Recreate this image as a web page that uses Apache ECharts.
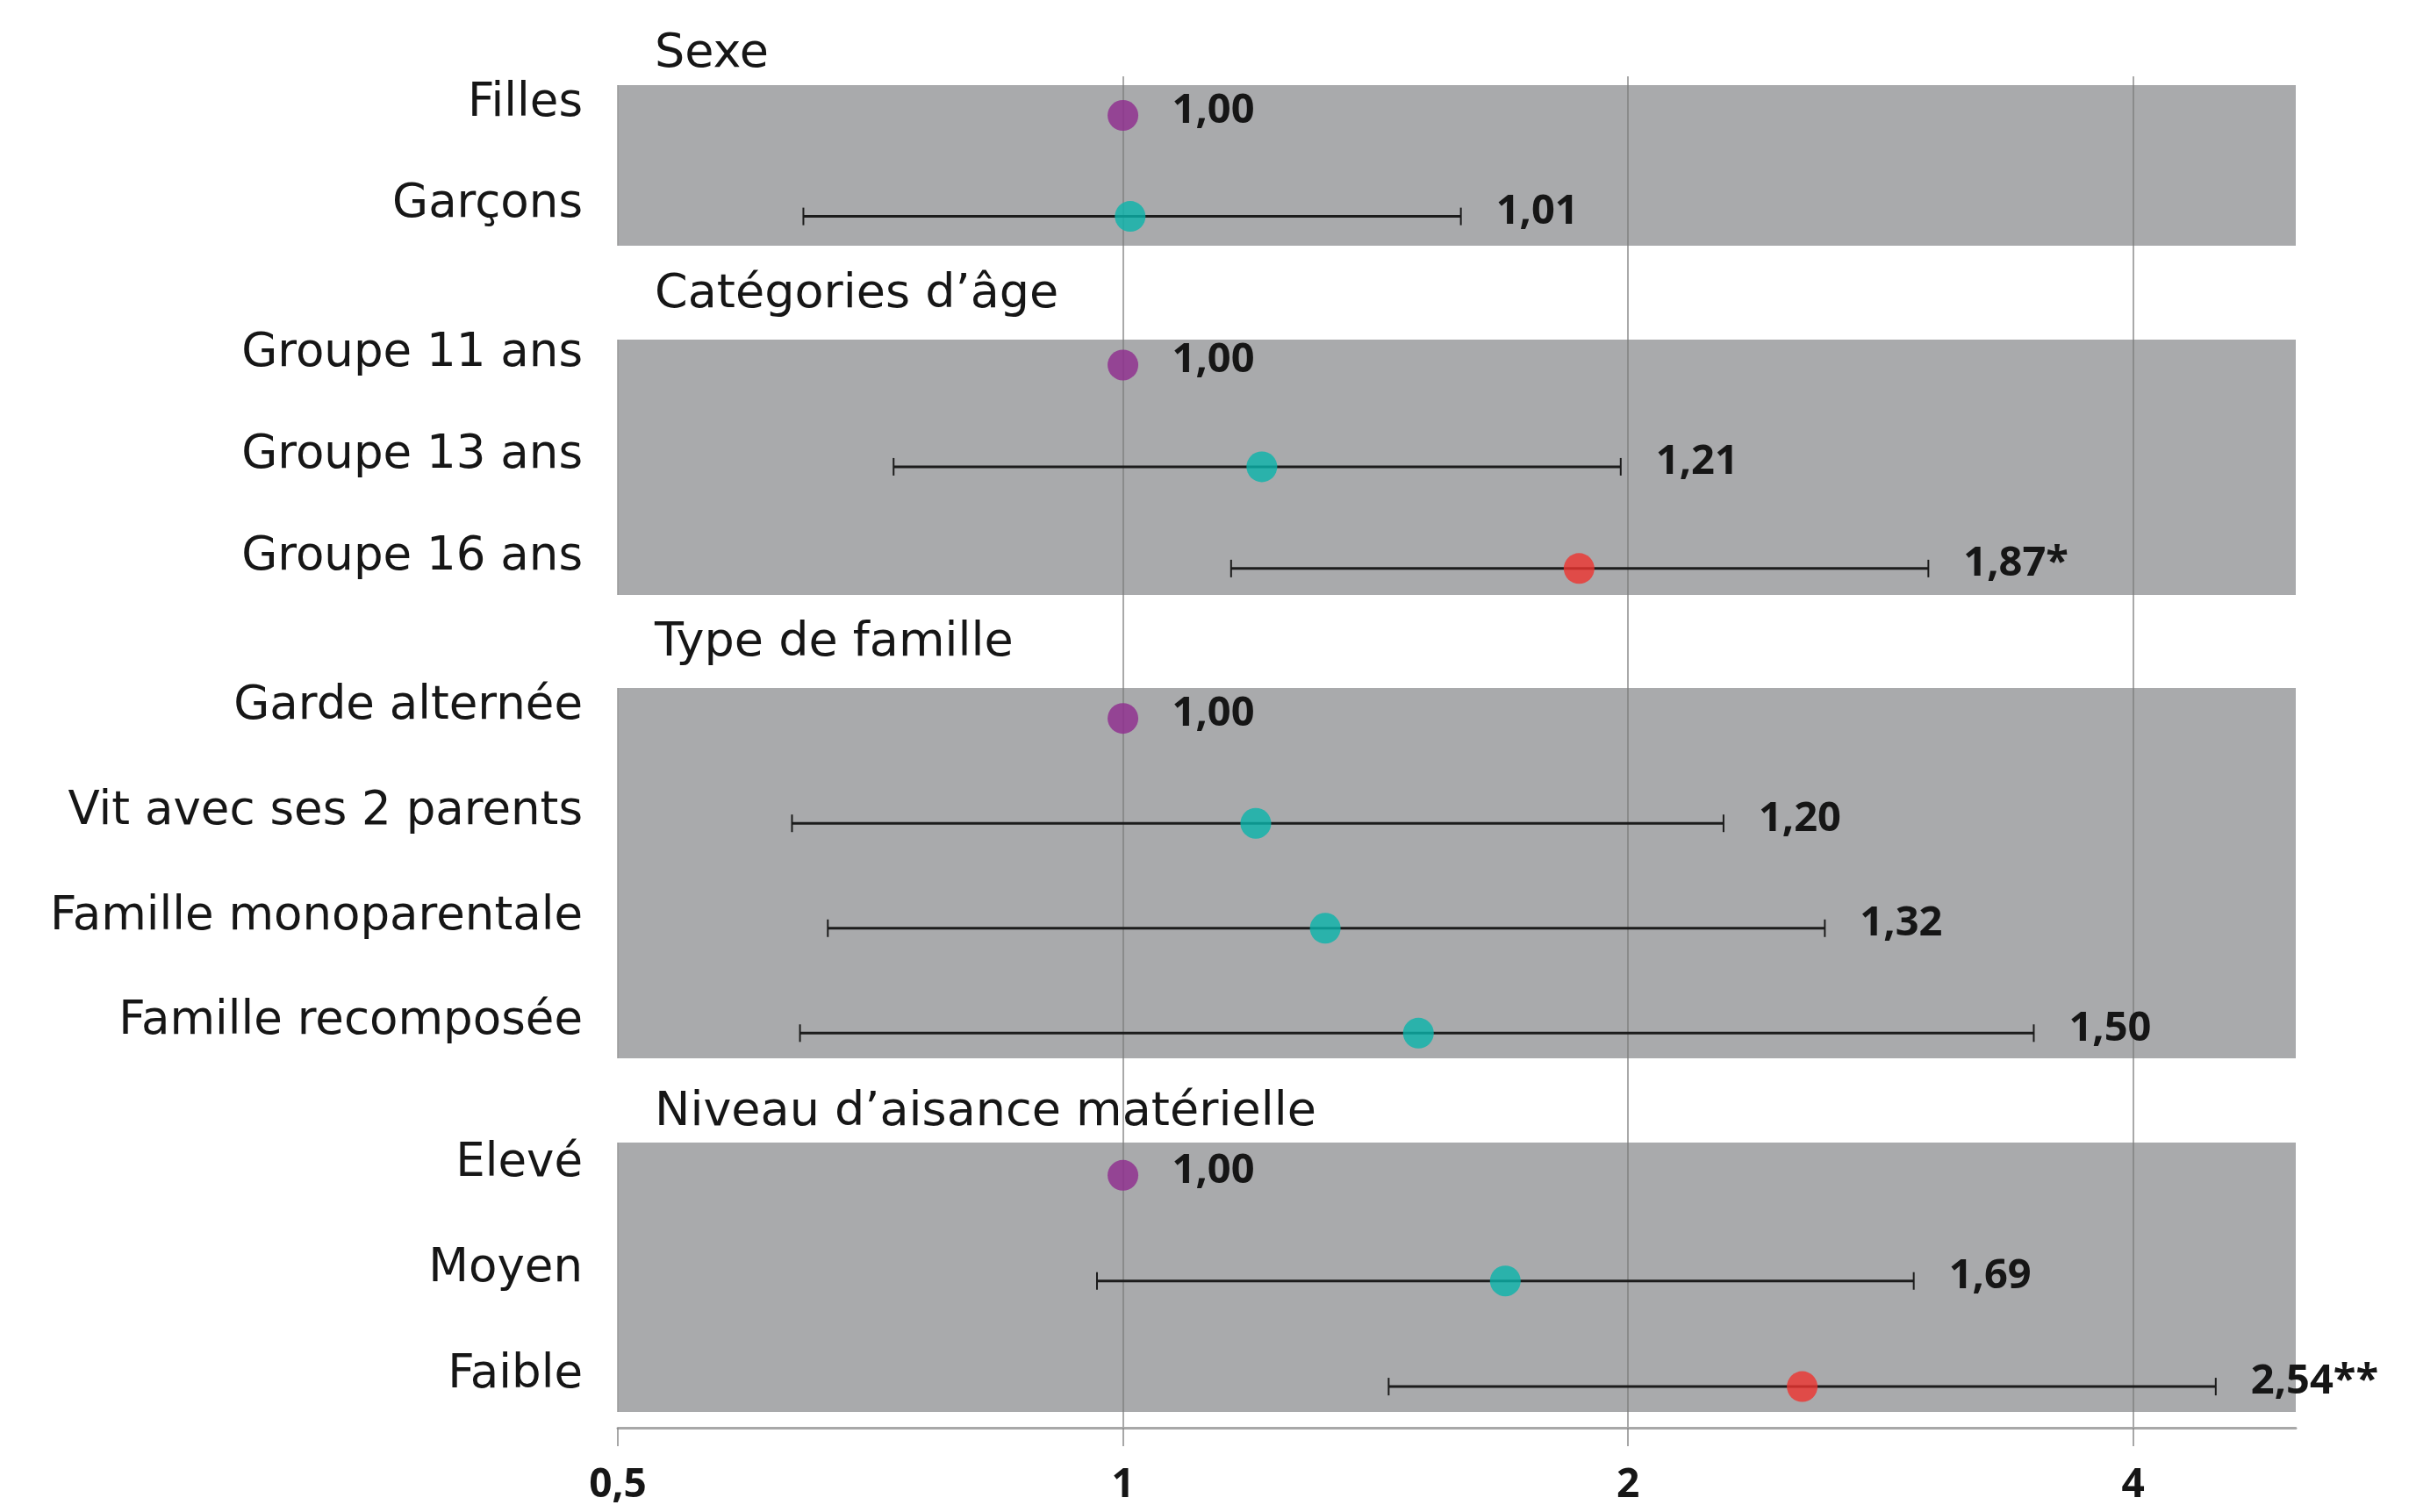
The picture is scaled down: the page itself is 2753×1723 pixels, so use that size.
<!DOCTYPE html>
<html><head><meta charset="utf-8">
<script src="https://cdn.jsdelivr.net/npm/echarts@6/dist/echarts.min.js"></script>
<style>html,body{margin:0;padding:0;background:#fff}#c{width:2753px;height:1723px}</style>
</head><body><div id="c"></div>
<script>
// ---- data ----
const groupNames = ['Sexe', 'Catégories d’âge', 'Type de famille', 'Niveau d’aisance matérielle'];
const categories = ['Filles', 'Garçons', 'Groupe 11 ans', 'Groupe 13 ans', 'Groupe 16 ans',
  'Garde alternée', 'Vit avec ses 2 parents', 'Famille monoparentale', 'Famille recomposée',
  'Elevé', 'Moyen', 'Faible'];
const groupOf = [0, 0, 1, 1, 1, 2, 2, 2, 2, 3, 3, 3];
const oddsRatios = [1.00, 1.01, 1.00, 1.21, 1.87, 1.00, 1.20, 1.32, 1.50, 1.00, 1.69, 2.54];
const ciLow  = [null, 0.645, null, 0.73, 1.16, null, 0.635, 0.667, 0.642, null, 0.965, 1.44];
const ciHigh = [null, 1.59,  null, 1.98, 3.02, null, 2.28,  2.62,  3.49,  null, 2.96,  4.48];
const valueLabels = ['1,00', '1,01', '1,00', '1,21', '1,87*', '1,00', '1,20', '1,32', '1,50', '1,00', '1,69', '2,54**'];
const status = ['ref', 'ns', 'ref', 'ns', 'sig', 'ref', 'ns', 'ns', 'ns', 'ref', 'ns', 'sig'];
const xTicks = [0.5, 1, 2, 4];
const xTickLabels = ['0,5', '1', '2', '4'];

// ---- layout / style ----
const colorMap = { ref: '#8e2a8f', ns: '#0ab4ab', sig: '#ee3330' };
const plotLeft = 704, plotRight = 137;
const bands = [
  { top: 97,   height: 183, padTop: 0.30, padBottom: 0.29, header: 58 },
  { top: 387,  height: 291, padTop: 0.25, padBottom: 0.26, header: 332 },
  { top: 784,  height: 422, padTop: 0.29, padBottom: 0.24, header: 729 },
  { top: 1302, height: 307, padTop: 0.31, padBottom: 0.24, header: 1264 }
];
const masterTop = 87, axisY = 1627;
const bandGrey = '#a9aaac';
const textCol = '#161616';
const catFont = 'DejaVu Sans';
const numFont = 'Open Sans';

const grids = [], xAxes = [], yAxes = [], series = [];
bands.forEach((b, i) => {
  const rows = [];
  groupOf.forEach((g, r) => { if (g === i) rows.push(r); });
  const n = rows.length;
  grids.push({ left: plotLeft, right: plotRight, top: b.top, height: b.height,
    show: true, backgroundColor: bandGrey, borderWidth: 0 });
  xAxes.push({ type: 'log', logBase: 2, min: 0.5, max: 5, gridIndex: i,
    axisLine: { show: false }, axisTick: { show: false }, axisLabel: { show: false },
    splitLine: { show: true, lineStyle: { width: 1.5,
      color: ['#9a9a9a', '#7a7a7a', '#7a7a7a', '#7a7a7a', 'rgba(0,0,0,0)'] } } });
  yAxes.push({ type: 'value', gridIndex: i, inverse: true,
    min: -b.padTop, max: n - 1 + b.padBottom,
    axisLine: { show: false }, axisTick: { show: false }, splitLine: { show: false },
    axisLabel: { customValues: rows.map((r, k) => k),
      formatter: v => categories[rows[Math.round(v)]],
      fontFamily: catFont, fontSize: 53, color: textCol, margin: 40,
      verticalAlign: 'bottom', lineHeight: 26 } });
  series.push({
    type: 'custom', xAxisIndex: i, yAxisIndex: i, silent: true, z: 2,
    encode: { x: 0, y: 1 },
    data: rows.map((r, k) => [oddsRatios[r], k]),
    renderItem: (params, api) => {
      const r = rows[params.dataIndex];
      const k = api.value(1);
      const p = api.coord([oddsRatios[r], k]);
      const children = [];
      let lx;
      if (ciLow[r] != null) {
        const a = api.coord([ciLow[r], k]);
        const c = api.coord([ciHigh[r], k]);
        const st = { stroke: '#1c1c1c', lineWidth: 3 };
        children.push({ type: 'line', shape: { x1: a[0], y1: a[1], x2: c[0], y2: c[1] }, style: st });
        children.push({ type: 'line', shape: { x1: a[0], y1: a[1] - 10, x2: a[0], y2: a[1] + 10 }, style: { stroke: '#1c1c1c', lineWidth: 2 } });
        children.push({ type: 'line', shape: { x1: c[0], y1: c[1] - 10, x2: c[0], y2: c[1] + 10 }, style: { stroke: '#1c1c1c', lineWidth: 2 } });
        lx = c[0] + 40;
      } else {
        lx = p[0] + 56;
      }
      children.push({ type: 'text', style: { text: valueLabels[r], x: lx, y: p[1] - 5,
        fill: textCol, font: 'bold 47px "' + numFont + '"', textAlign: 'left', textVerticalAlign: 'middle' } });
      return { type: 'group', children };
    }
  });
  series.push({
    type: 'scatter', xAxisIndex: i, yAxisIndex: i, silent: true, z: 3,
    symbol: 'circle', symbolSize: 35,
    data: rows.map((r, k) => ({ value: [oddsRatios[r], k], itemStyle: { color: colorMap[status[r]] } }))
  });
});

// master grid for axis and gridlines across the whole chart
grids.push({ left: plotLeft, right: plotRight, top: masterTop, height: axisY - masterTop, show: false });
xAxes.push({ type: 'log', logBase: 2, min: 0.5, max: 5, gridIndex: 4,
  axisLine: { show: true, lineStyle: { color: '#a8a8a8', width: 3 } },
  axisTick: { show: true, length: 21, customValues: xTicks, lineStyle: { color: '#8a8a8a', width: 1.5 } },
  axisLabel: { customValues: xTicks, margin: 43, fontFamily: numFont, fontWeight: 'bold', fontSize: 46, color: textCol,
    formatter: v => { const j = xTicks.findIndex(t => Math.abs(t - v) < 1e-6); return j >= 0 ? xTickLabels[j] : ''; } },
  splitLine: { show: true, lineStyle: { width: 1.5,
    color: ['rgba(0,0,0,0)', '#8c8c8c', '#8c8c8c', '#8c8c8c', 'rgba(0,0,0,0)'] } } });
yAxes.push({ type: 'value', gridIndex: 4, min: 0, max: 1, show: false });

const titles = groupNames.map((t, i) => ({ text: t, left: 746, top: bands[i].header - 23, padding: 0,
  textStyle: { fontFamily: catFont, fontSize: 54, fontWeight: 'normal', color: textCol } }));

const chart = echarts.init(document.getElementById('c'), null, { renderer: 'canvas' });
chart.setOption({
  animation: false,
  backgroundColor: '#ffffff',
  title: titles,
  grid: grids, xAxis: xAxes, yAxis: yAxes, series: series
});
</script></body></html>
